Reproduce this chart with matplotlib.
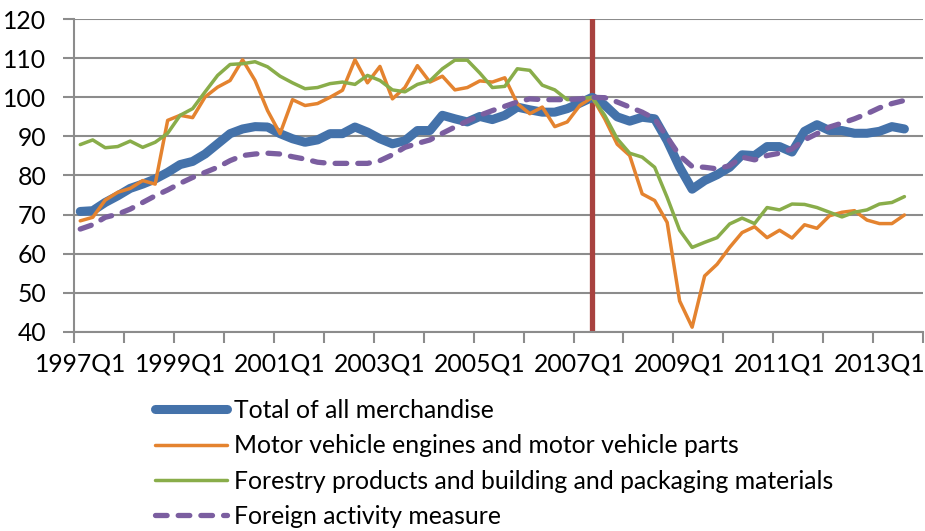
import matplotlib
matplotlib.use("Agg")
import matplotlib.pyplot as plt
import numpy as np

# quarterly index values, 1997Q1 .. 2013Q3 (2007Q2 = 100)
years = list(range(1997, 2014))
quarters = [f"{y}Q{q}" for y in years for q in range(1, 5)]
tick_labels = ["1997Q1", "1999Q1", "2001Q1", "2003Q1", "2005Q1",
               "2007Q1", "2009Q1", "2011Q1", "2013Q1"]
peak_quarter = "2007Q2"

total = [70.8, 71.0, 73.1, 74.8, 76.7, 77.8, 79.1, 80.8, 82.8, 83.6,
         85.5, 88.1, 90.7, 91.9, 92.5, 92.4, 90.7, 89.4, 88.5, 89.1,
         90.7, 90.7, 92.4, 91.1, 89.4, 88.1, 88.9, 91.5, 91.5, 95.4,
         94.5, 93.7, 95.1, 94.3, 95.4, 97.5, 96.8, 96.2, 96.2, 97.1,
         98.5, 100.0, 98.0, 95.0, 93.9, 94.9, 94.5, 88.9, 82.1, 76.5,
         78.7, 80.2, 82.1, 85.3, 85.1, 87.4, 87.4, 86.0, 91.3, 93.0,
         91.5, 91.5, 90.8, 90.8, 91.3, 92.5, 91.9]
motor = [68.4, 69.3, 73.7, 75.7, 76.7, 78.7, 77.8, 94.1, 95.4, 94.8,
         100.1, 102.6, 104.3, 109.6, 104.3, 96.6, 90.7, 99.4, 97.9, 98.4,
         100.0, 101.8, 109.6, 103.7, 107.9, 99.6, 102.5, 108.1, 103.9, 105.4,
         101.9, 102.5, 104.2, 103.9, 105.0, 98.4, 95.8, 97.5, 92.5, 93.7,
         97.9, 100.0, 94.5, 88.0, 85.1, 75.3, 73.6, 68.0, 47.9, 41.2,
         54.3, 57.3, 61.6, 65.4, 66.9, 64.1, 66.0, 64.0, 67.4, 66.5,
         69.7, 70.6, 71.0, 68.6, 67.7, 67.7, 69.9]
forestry = [87.9, 89.1, 87.1, 87.4, 88.8, 87.2, 88.5, 90.8, 95.4, 97.1,
            101.4, 105.6, 108.4, 108.6, 109.1, 107.8, 105.4, 103.7, 102.2, 102.5,
            103.5, 103.9, 103.3, 105.6, 104.3, 101.9, 101.4, 103.3, 104.2, 107.3,
            109.5, 109.5, 106.2, 102.5, 102.8, 107.3, 106.9, 103.1, 101.9, 99.4,
            99.6, 100.0, 95.4, 89.4, 85.7, 84.7, 82.1, 74.4, 66.0, 61.6,
            62.9, 64.1, 67.6, 69.1, 67.7, 71.8, 71.2, 72.7, 72.6, 71.8,
            70.6, 69.4, 70.6, 71.2, 72.7, 73.1, 74.6]
foreign = [66.3, 67.4, 69.3, 70.1, 71.4, 73.1, 74.8, 76.3, 78.0, 79.5,
           80.8, 82.1, 83.8, 85.1, 85.5, 85.7, 85.5, 84.8, 84.2, 83.4,
           83.1, 83.1, 83.1, 83.1, 83.8, 85.3, 87.2, 88.2, 89.1, 90.8,
           92.4, 93.9, 95.4, 96.6, 97.7, 98.8, 99.6, 99.4, 99.4, 99.4,
           99.6, 100.0, 99.9, 98.8, 97.5, 96.2, 94.5, 89.8, 85.1, 82.3,
           82.1, 81.7, 82.5, 84.7, 84.0, 85.1, 85.7, 86.8, 89.1, 90.7,
           92.4, 93.4, 94.5, 95.8, 97.3, 98.4, 99.2]

labels = ["Total of all merchandise",
          "Motor vehicle engines and motor vehicle parts",
          "Forestry products and building and packaging materials",
          "Foreign activity measure"]

plt.rcParams['font.family'] = ['Lato', 'DejaVu Sans']
plt.rcParams['font.size'] = 17.8

fig = plt.figure(figsize=(9.25, 5.31), dpi=100)
ax = fig.add_axes([0.08, 0.375, 0.918, 0.589])

x = np.arange(len(total))
grid_c = '#8c8c8c'

ax.axvline(quarters.index(peak_quarter), color='#a8423f', lw=3.8, zorder=1)
ax.plot(x, total, color='#4472aa', lw=6.5, solid_capstyle='round',
        solid_joinstyle='round', label=labels[0], zorder=3)
ax.plot(x, motor, color='#e4832f', lw=2.5, solid_joinstyle='round',
        solid_capstyle='round', label=labels[1], zorder=4)
ax.plot(x, forestry, color='#89ad4a', lw=2.5, solid_joinstyle='round',
        solid_capstyle='round', label=labels[2], zorder=4)
ax.plot(x, foreign, color='#7b5ea0', lw=3.8, dashes=(2.2, 2.1),
        dash_capstyle='round', label=labels[3], zorder=5)

ax.set_ylim(40, 120)
ax.set_yticks(range(40, 121, 10))
ax.set_xlim(-0.5, len(quarters) - 0.5)
ax.set_xticks([quarters.index(t) for t in tick_labels])
ax.set_xticklabels(tick_labels)
ax.set_xticks(np.arange(-0.5, len(quarters), 4), minor=True)
ax.tick_params(axis='x', which='major', length=0, pad=15)
ax.tick_params(axis='x', which='minor', length=8, width=1.5, color=grid_c)
ax.tick_params(axis='y', length=8, width=1.5, color=grid_c, pad=12)

ax.grid(axis='y', color=grid_c, lw=1.5)
ax.set_axisbelow(True)
for s in ['top', 'right']:
    ax.spines[s].set_visible(False)
for s in ['left', 'bottom']:
    ax.spines[s].set_color(grid_c)
    ax.spines[s].set_linewidth(1.5)

fig.legend(loc='upper left', bbox_to_anchor=(155 / 925, 1 - 399 / 531),
           frameon=False, borderpad=0, borderaxespad=0, handlelength=2.9,
           handletextpad=0.28, labelspacing=0.5)

fig.savefig('out.png', dpi=100)
